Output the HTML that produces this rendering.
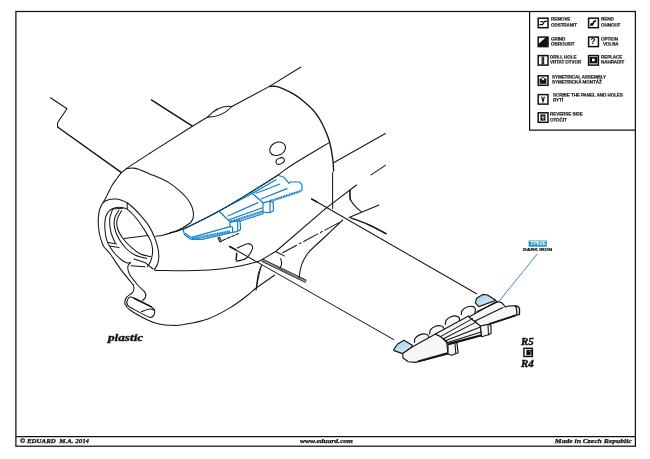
<!DOCTYPE html>
<html><head><meta charset="utf-8"><title>Instruction sheet</title>
<style>
html,body{margin:0;padding:0;background:#fff;}
body{width:650px;height:459px;position:relative;overflow:hidden;font-family:"Liberation Sans",sans-serif;}
.t{position:absolute;white-space:nowrap;color:#111;line-height:1;will-change:transform;}
.ser{font-family:"Liberation Serif",serif;font-weight:bold;font-style:italic;-webkit-text-stroke:0.25px #111;}
.lg{font-family:"Liberation Sans",sans-serif;font-weight:bold;font-size:4.6px;line-height:1;letter-spacing:-0.1px;color:#111;-webkit-text-stroke:0.18px #111;transform:scaleY(0.86);transform-origin:0 0;}
</style></head><body>
<svg width="650" height="459" viewBox="0 0 650 459" style="position:absolute;left:0;top:0">
<defs><linearGradient id="cap" x1="0" y1="0" x2="1" y2="1"><stop offset="0" stop-color="#9fcdea"/><stop offset="1" stop-color="#e4eff7"/></linearGradient></defs>
<g fill="none" stroke="#111" stroke-width="1.25">
<rect x="15.9" y="11.5" width="619.5" height="434.7"/>
<path d="M15.9,436.5 H635.4"/>
<path d="M529.6,11.5 V130.2 H635.4"/>
</g>
<g fill="none" stroke="#151515" stroke-width="1.05" stroke-linecap="round" stroke-linejoin="round">
<path d="M50.5,97.7 L67,108.7 L59.5,119.7"/>
<path d="M59.5,119.7 C59.2,120.3 57.9,122 57.6,123.2 C57.3,124.4 57.6,126.4 57.6,127"/>
<path d="M103.2,202.6 C103.8,201.4 105.5,198.4 107,195.5 C108.5,192.6 110.6,187.8 112.3,185 C114,182.2 115.4,180.6 116.9,178.5 C118.4,176.4 120,174.3 121.5,172.7 C123,171.1 124.4,170.2 126.2,168.8 C128,167.5 128.3,167.2 132.3,164.6 C136.3,162 147.1,155 150,153.1"/>
<path d="M150,153.1 L192.4,126.2 L207.3,117.3"/>
<path d="M231.9,106.5 L269.5,86.4 L301,67"/>
<path d="M207.3,117.3 Q218.8,104.6 231.9,106.5 Q222,117.2 207.3,117.3Z"/>
<path d="M332.6,172.5 L332.6,208.5"/>
<path d="M333.6,162.7 L385.4,133.5"/>
<path d="M371,174.9 L385.4,165.4"/>
<path d="M170,232.7 C172.2,232.1 174.8,232.6 183,229 C191.2,225.4 207.7,217.2 219,211 C230.3,204.8 241.2,198 251,192 C260.8,186 271.2,179.5 278,175 C284.8,170.5 283.5,170.4 292,165 C300.5,159.6 323,146.3 329.2,142.6"/>
<path d="M126.2,168.8 C127.2,168.7 130.2,168 132.3,168.1 C134.4,168.2 135.6,168.2 138.5,169.2 C141.4,170.2 147.2,173.1 150,174.2 C152.8,175.3 152.1,174.6 155.2,176 C158.3,177.4 164.3,179.8 168.5,182.4 C172.7,185 177.4,189 180.6,191.8 C183.8,194.6 185.6,196.5 187.5,199 C189.4,201.5 191,204.6 192,207 C193,209.4 193.2,211.6 193.4,213.5 C193.6,215.4 193.5,217 193,218.5 C192.5,220 190.9,222 190.5,222.7"/>
<path d="M190.3,222.7 C189.1,223.5 186.1,226 183,227.7 C179.9,229.3 175.4,231.3 172,232.6 C168.6,233.8 165.4,234.6 162.7,235.2 C160,235.8 156.8,236 155.6,236.2"/>
<path d="M154.3,269.7 C154.9,268.8 156.8,266.1 157.6,264 C158.3,261.9 158.7,259.3 158.8,257 C158.9,254.7 158.6,252.2 158.3,250 C158,247.8 157.5,246.2 156.8,244 C156.1,241.8 155.6,239.6 154.3,236.7 C153.1,233.8 151.6,230.2 149.3,226.6 C147,223 143,218.2 140.4,215.2 C137.8,212.2 136.1,210.5 134,208.5 C131.9,206.5 129.9,204.6 127.8,203.2 C125.7,201.8 123.6,200.9 121.5,200.2 C119.4,199.5 117.4,199.2 115.2,199.1 C113,199 110.5,199.2 108.5,199.8 C106.5,200.4 104.6,201.2 103.2,202.6 C101.8,204 100.8,206.4 100,208.5 C99.2,210.6 98.9,213 98.6,215.2 C98.3,217.4 98.2,219.4 98.2,221.5 C98.2,223.6 98.4,225.6 98.6,227.8 C98.8,230 99.1,232.4 99.6,234.5 C100,236.6 100.6,238.4 101.3,240.4 C102,242.4 102.4,244.4 103.9,246.7 C105.4,249 107.3,250.1 110.2,254 C113.1,257.9 117.7,265.3 121.5,270.4 C125.3,275.5 131.2,282.4 133.2,284.8"/>
<path d="M147.4,266.6 C147.9,265.8 149.7,263.6 150.5,261.5 C151.3,259.4 152.1,256.3 152.4,254 C152.7,251.7 152.7,250.2 152.4,247.9 C152.1,245.6 151.7,243.1 150.5,240.4 C149.3,237.7 147.6,234.9 145.5,231.6 C143.4,228.2 140.1,223.2 137.9,220.3 C135.7,217.4 134.4,215.9 132.5,214 C130.6,212.1 128.5,210 126.6,208.9 C124.7,207.8 122.9,207.6 121,207.4 C119.1,207.2 117.1,207.2 115.2,207.7 C113.3,208.2 110.9,209.2 109.4,210.6 C107.9,212 106.8,214 106,216 C105.2,218 105.1,220.2 104.9,222.5 C104.7,224.8 104.8,227.6 105,230 C105.2,232.4 105.5,234.7 105.9,236.8 C106.4,238.9 106.9,240.7 107.7,242.6 C108.5,244.5 109.8,246.6 111,248.5 C112.2,250.4 113.5,252.2 115.2,254 C116.9,255.8 119.1,258 121,259.5 C122.9,261 125,262.2 126.6,262.8 C128.2,263.4 129.8,262.8 130.4,262.8"/>
<path d="M127.2,203 L127.2,208.9"/>
<path d="M112.7,208.9 C112.2,210.6 110,215.2 109.7,219 C109.4,222.8 109.9,227.6 110.8,231.6 C111.7,235.6 114.5,241.1 115.2,243"/>
<path d="M119,210.2 C118.3,211.4 115.5,214.8 114.8,217.7 C114.1,220.6 113.9,224.2 114.6,227.8 C115.3,231.4 117,235.5 119,239 C121,242.5 123.9,246.3 126.6,249 C129.3,251.7 132.1,253.6 135.4,255.2 C138.8,256.8 144.8,257.9 146.7,258.4"/>
<path d="M121.5,210.8 C120.8,212.2 118,216.1 117.3,219 C116.6,221.9 116.5,225.2 117.5,228.5 C118.5,231.8 120.7,235.3 123,238.5 C125.3,241.7 128.7,245.1 131.6,247.7 C134.5,250.3 137.2,252.5 140.4,254 C143.6,255.5 148.8,256.1 150.5,256.5"/>
<path d="M112.7,208.9 L122.8,208.3"/>
<path d="M124,238.5 L148,235.6"/>
<path d="M108.3,242.6 L116.5,243.9"/>
<path d="M109.5,246 L119,247.5"/>
<path d="M134.1,259 L145.5,262.8 L153,269"/>
<path d="M131,265.8 L145,266.8"/>
<path d="M155,270.4 C160,270.4 175,270.8 185,270.7 C195,270.6 205.4,270.5 215,269.6 C224.6,268.7 235.5,266.8 242.4,265.5 C249.3,264.2 253,263 256.4,262 C259.8,261 261.5,259.8 262.5,259.4"/>
<path d="M262.5,259.4 L276.3,251 L325.2,208.8"/>
<path d="M133.2,284.8 C133.3,285.4 134.1,287.2 134,288.5 C133.9,289.8 133.7,291.1 132.4,292.6 C131.2,294.1 127.7,295.5 126.5,297.4 C125.3,299.3 124.4,301.8 125,303.9 C125.6,306 126.2,307.3 130,310 C133.8,312.7 142.6,317.6 147.6,320 C152.6,322.4 155.9,323.4 160,324.3 C164.1,325.2 168.2,325.2 172,325.3 C175.8,325.4 176.7,325.8 182.7,324.7 C188.7,323.6 199.9,321.8 207.8,318.9 C215.7,316 223.6,311.6 230.3,307.6 C237,303.6 243.6,298.3 247.9,295 C252.2,291.7 251.8,291.3 256.3,288 C260.8,284.7 271.6,277.2 274.7,275"/>
<path d="M130.4,262.8 C130,263.4 128,264.7 127.8,266.6 C127.6,268.5 127.8,271 129.4,274.1 C131,277.2 135,281.9 137.6,285 C140.2,288.1 143.8,290.5 145.1,292.6 C146.4,294.7 145.7,296.2 145.3,297.5 C144.9,298.8 143,300 142.5,300.5"/>
<path d="M131.3,297 C134.1,297.7 148.7,305.4 151.4,307 C154.1,308.6 154.3,309.4 154.6,310.3 C154.9,311.2 154.5,314.2 153.9,315 C153.3,315.8 152.3,318.2 149.4,317.2 C146.5,316.2 131.4,308.2 128.8,306.4 C126.2,304.6 126.7,302.5 127,301.4 C127.3,300.3 128.5,296.3 131.3,297Z"/>
<path d="M141.5,311.5 C142.9,311.1 147.8,309.2 150,309 C152.2,308.8 153.7,310.1 154.4,310.3"/>
<path d="M256.3,288 C256.6,285.7 257.4,277.8 258.3,274 C259.2,270.2 261.1,266.5 261.7,265"/>
<path d="M237.2,248 C238.9,247.3 245.1,244 247.6,243.7 C250.1,243.4 251.7,244.8 252.3,246 C253,247.2 252.6,248.9 251.5,251 C250.4,253.1 248.4,256.8 245.9,258.5 C243.4,260.2 237.9,260.8 236.3,261.2"/>
<path d="M229.4,246.3 L393.8,339.6"/>
<path d="M218,238 L220,242 L221.5,241.3 L219.5,237.3 L218,238"/>
<path d="M311.4,198.8 L476.6,293.8"/>
<path d="M325.2,208.8 L356.5,185"/>
<path d="M350,189.7 L350,200"/>
<path d="M350,190.5 C350.1,192 349.6,196.9 350.5,199.5 C351.4,202.1 353.6,204.3 355.4,206.3 C357.1,208.3 360.1,210.7 361,211.6"/>
<path d="M349,217.6 L379,205"/>
<path d="M342.7,220 C340.1,222.5 332.7,229.6 327,235 C321.3,240.4 312.8,247.5 308.6,252.4 C304.4,257.3 303.3,260.3 301.7,264.6 C300.1,268.9 299.4,275.8 299,278"/>
<path d="M275.5,251.5 L284.2,255.9"/>
<path d="M280.7,258.5 C280.9,259.4 281.7,262.1 281.6,263.7 C281.5,265.3 280.2,267.4 279.9,268.1"/>
</g>
<g fill="none" stroke="#151515" stroke-width="1.45" stroke-linecap="butt" stroke-linejoin="round">
<path d="M57.6,127 L121.5,172.7"/>
<path d="M151,99.6 L192.4,126.2"/>
<path d="M133.5,298 L151.6,306.9"/>
<path d="M236.1,260.5 L236.8,252.6"/>
<path d="M229.4,246.3 L236,250"/>
<path d="M311.4,198.8 L317,202"/>
<path d="M350.3,217.6 C353.2,218.8 361.9,221.8 368,224.5 C374.1,227.2 383.5,232.3 386.6,233.9"/>
</g>
<g fill="none" stroke="#151515" stroke-width="1.35" stroke-linecap="round" stroke-linejoin="round">
<path d="M269.5,86.5 C270.6,86.5 273.6,86 275.8,86.4 C278,86.8 279.7,87.4 282.7,88.7 C285.7,90 290.3,92.1 293.8,94.2 C297.3,96.3 300.3,98.5 303.5,101.2 C306.7,103.9 310.4,107.1 313.2,110.2 C316,113.3 318.2,116.9 320.1,119.9 C322,122.9 322.8,124.7 324.3,128.2 C325.8,131.7 327.9,136 329.3,141 C330.7,146 332,153.3 332.7,158.3 C333.4,163.3 333.5,168.9 333.6,171"/>
</g>
<g fill="none" stroke="#1280c4" stroke-width="1.2" stroke-linecap="round" stroke-linejoin="round">
<path d="M183,229.4 C189,226.4 207.7,217.4 219,211.2 C230.3,205 241.2,198.2 251,192.2 C260.8,186.2 273.5,178.1 278,175.3"/>
<path d="M278,175.3 L284,177.3 L289,183.3 L290.6,182 L299.5,182 L302,184.6 L302,190.2 L300,191.3"/>
<path d="M270,201.2 L270,212.5 L267,212.6 L263,212"/>
<path d="M270,201.2 L273.3,202.4 L273.3,211 L270,212.5"/>
<path d="M251,192.2 L263,202.8 L263,212"/>
<path d="M263,202.8 L270,201.2"/>
<path d="M263.3,213.8 L240,221"/>
<path d="M219,211.2 L230,221.8 L230,226.6 L232.6,227.2 L232.6,231.8"/>
<path d="M230,221.8 L240,220.6 L240.6,229.5 L236.5,231.6 L230,232.8 L202,239.4 L190.5,239.2 L184.6,234.8 L183,229.4"/>
<path d="M237.5,221 L237.8,231"/>
<path d="M230,226.6 L191,237.6 L185.5,233.6"/>
<path d="M224,208.2 L250,194.8 L276,179.7"/>
<path d="M228,216 L258,202.6"/>
<path d="M229.5,219.5 L262,208"/>
<path d="M256,193.2 L280,184"/>
<path d="M261,199 L287,188.6"/>
</g>
<g fill="none" stroke="#1280c4" stroke-width="2.4" stroke-linecap="butt" stroke-linejoin="round" stroke-dasharray="1.3 0.4">
<path d="M300,191.3 L270,201.2"/>
<path d="M263,211.5 L230,221.8"/>
<path d="M192,239 L230,231.3"/>
</g>
<g><path d="M393.8,349.3 L397.6,344 L403.9,340.2 L412.3,345.2 L411.5,347.3 L402.7,353.6 L394,350.6Z" fill="url(#cap)" stroke="#151515" stroke-width="1.15" stroke-linejoin="round"/><path d="M475.3,302.8 L476.6,298.2 L482.9,294.4 L487.5,295 L495.8,300.2 L479,306.6Z" fill="url(#cap)" stroke="#151515" stroke-width="1.15" stroke-linejoin="round"/><path d="M414.4,342.8 C414.5,342.2 414.4,339.3 415.2,338.2 C416,337.1 418.8,335.2 420.2,334.6 C421.6,334 424.3,333.8 425.4,334 C426.5,334.2 428.3,335.2 428.6,336.4 C428.9,337.6 427.6,342.3 427.4,343.2" fill="#f8f8f8" stroke="#151515" stroke-width="1.15" stroke-linejoin="round"/><path d="M429.6,334.5 C429.7,333.9 429.6,331 430.4,329.9 C431.2,328.8 434,326.9 435.4,326.3 C436.8,325.7 439.5,325.5 440.6,325.7 C441.7,325.9 443.5,326.9 443.8,328.1 C444.1,329.3 442.8,334 442.6,334.9" fill="#f8f8f8" stroke="#151515" stroke-width="1.15" stroke-linejoin="round"/><path d="M445.3,324.9 C445.4,324.3 445.3,321.4 446.1,320.3 C446.9,319.2 449.7,317.3 451.1,316.7 C452.5,316.1 455.2,315.9 456.3,316.1 C457.4,316.3 459.2,317.3 459.5,318.5 C459.8,319.7 458.5,324.4 458.3,325.3" fill="#f8f8f8" stroke="#151515" stroke-width="1.15" stroke-linejoin="round"/><path d="M461.2,315.2 C461.3,314.6 461.2,311.7 462,310.6 C462.8,309.5 465.6,307.6 467,307 C468.4,306.4 471.1,306.2 472.2,306.4 C473.3,306.6 475.1,307.6 475.4,308.8 C475.7,310 474.4,314.7 474.2,315.6" fill="#f8f8f8" stroke="#151515" stroke-width="1.15" stroke-linejoin="round"/><path d="M402.7,353.4 L412.1,347.1 L435.4,333.9 L440.5,336.4 L446.8,342.7 L448,354 L421.6,361 L415.3,362.4 L408.3,361.8 L403,358Z" fill="#f6f6f6" stroke="#151515" stroke-width="1.15" stroke-linejoin="round"/><path d="M435.4,333.9 L468.5,316 L474.2,319.8 L480.3,325.4 L481.6,335.6 L448.6,344.6 L446.8,341.5 L440.5,336.4Z" fill="#f6f6f6" stroke="#151515" stroke-width="1.15" stroke-linejoin="round"/><path d="M469,317 L496.9,301.2 L501.9,302.9 L505.6,307.1 L507.5,306.2 L515,305.7 L518.1,306.6 L519.5,308.5 L519.5,314.5 L516.7,314.9 L489.2,324.2 L480.4,326Z" fill="#f6f6f6" stroke="#151515" stroke-width="1.15" stroke-linejoin="round"/><path d="M515.2,305.8 L518.1,306.6 L519.5,308.5 L519.5,314.5 L516.9,314.9 L516.5,308.5Z" fill="#ddd" stroke="#151515" stroke-width="1.15" stroke-linejoin="round"/><path d="M448,344.6 L456.9,342.7 L458.1,352.8 L451.8,355.3 L448,354Z" fill="#f6f6f6" stroke="#151515" stroke-width="1.15" stroke-linejoin="round"/><path d="M480.4,326 L489.2,324.2 L491,326 L491,333.5 L488.5,334.8 L481.6,336.7Z" fill="#f6f6f6" stroke="#151515" stroke-width="1.15" stroke-linejoin="round"/></g><g fill="none" stroke="#151515" stroke-width="1.05" stroke-linecap="round"><path d="M440.5,336.6 L472.5,318.6"/><path d="M443.5,338.8 L476.5,321.9"/><path d="M446,340.6 L480.5,327"/><path d="M447.6,342.5 L481.2,332"/><path d="M477,311.5 L497.5,302"/><path d="M474.5,321.3 L503,307.5"/><path d="M455,344 L455.8,353.6"/><path d="M488,325 L488.5,334.8"/></g><g fill="none" stroke="#151515" stroke-width="1.9"><path d="M418,361.3 L447.5,353.2"/><path d="M448.6,343.6 L481.5,335.2"/><path d="M489.2,324.2 L515.7,315.4"/></g><g fill="none" stroke="#151515" stroke-width="1.05" stroke-linecap="round"><ellipse cx="277.6" cy="148.8" rx="8.2" ry="6.4" transform="rotate(-25 277.6 148.8)"/><ellipse cx="280.2" cy="161" rx="4.4" ry="2.9" transform="rotate(-25 280.2 161)"/><path d="M260.9,267 Q258,278 256,290.5" stroke-dasharray="3.2 0.9"/><path d="M222.5,240.4 L238.5,233.6" stroke-dasharray="3.5 1.5"/><path d="M339,222.6 L282.6,252.7" stroke-dasharray="16 3 2 3"/><path d="M262.5,260.3 L306,281.3" stroke-width="2.4" stroke-dasharray="0.6 0.55" stroke-linecap="butt"/><path d="M262.8,259.2 L306.5,280.2 M262,261.5 L305.5,282.5" stroke-width="0.8"/><path d="M183,229.4 C189,226.4 207.7,217.4 219,211.2 C230.3,205 241.2,198.2 251,192.2 C260.8,186.2 273.5,178.1 278,175.3" stroke-dasharray="1.6 1.8" stroke-width="0.9"/></g><path d="M537.3,253.9 L498.8,301.6" stroke="#1f86b8" stroke-width="0.9" fill="none"/><rect x="528.6" y="240.5" width="18.3" height="6.2" fill="#229bc8"/><rect x="523.9" y="348.3" width="8.5" height="8.2" fill="#fff" stroke="#111" stroke-width="1.4"/><rect x="526.4" y="349.8" width="5.4" height="5.4" fill="#111"/><path d="M529.2,351.2 l1.6,1.2 M529.8,354.6 l1.4,-0.6" stroke="#fff" stroke-width="0.7"/><rect x="538.2" y="18.200000000000003" width="9.8" height="9.5" fill="#fff" stroke="#111" stroke-width="1.5"/><path d="M539.4,24.6 h3.2 l1.8,-3.2 h2.6 M540.4,21.6 h2.6" fill="none" stroke="#111" stroke-width="1.3"/><rect x="588.6" y="18.200000000000003" width="9.8" height="9.5" fill="#fff" stroke="#111" stroke-width="1.5"/><path d="M591.2,24.6 l1.6,-0.6 l1.2,-2.4 l2,-1" fill="none" stroke="#111" stroke-width="1.7"/><circle cx="591.6" cy="24.4" r="1.5" fill="#111"/><rect x="538.2" y="37.1" width="9.8" height="9.5" fill="#fff" stroke="#111" stroke-width="1.5"/><path d="M538.4,46.4 V44 L546,37.3 H547.8 V46.4Z" fill="#111"/><rect x="588.6" y="37.1" width="9.8" height="9.5" fill="#fff" stroke="#111" stroke-width="1.5"/><rect x="538.2" y="55.6" width="9.8" height="9.5" fill="#fff" stroke="#111" stroke-width="1.5"/><rect x="541.6" y="56.6" width="2.6" height="7.8" fill="#111"/><path d="M542.9,57.5 v6" stroke="#fff" stroke-width="0.6" stroke-dasharray="1 0.8"/><rect x="588.6" y="55.6" width="9.8" height="9.5" fill="#fff" stroke="#111" stroke-width="1.5"/><rect x="589.6" y="57" width="7.8" height="6.4" fill="#111"/><rect x="592" y="58.6" width="2.8" height="2.6" fill="#fff"/><rect x="538.2" y="75.8" width="9.8" height="9.5" fill="#fff" stroke="#111" stroke-width="1.5"/><rect x="539.6" y="78.6" width="6.8" height="5.2" fill="#111"/><circle cx="543" cy="79" r="1.6" fill="#fff" stroke="#111" stroke-width="0.7"/><rect x="538.2" y="94.6" width="9.8" height="9.5" fill="#fff" stroke="#111" stroke-width="1.5"/><path d="M541.6,96.6 l1.4,5 l1.4,-5" fill="none" stroke="#111" stroke-width="1.2"/><rect x="538.2" y="112.8" width="9.8" height="9.5" fill="#fff" stroke="#111" stroke-width="1.5"/><rect x="540.4" y="114.4" width="5" height="6.2" fill="#111"/><path d="M541.4,117.4 h3.2 M543,115.4 v4.4" stroke="#fff" stroke-width="0.7"/>
</svg>

<div class="t ser" style="left:108.3px;top:333.1px;font-size:10.4px;-webkit-text-stroke:0.35px #111;transform:scaleX(1.27);transform-origin:0 0;">plastic</div>
<div class="t ser" style="left:521.2px;top:336.8px;font-size:9.6px;-webkit-text-stroke:0.4px #111;transform:scaleX(1.14);transform-origin:0 0;">R5</div>
<div class="t ser" style="left:521.2px;top:359.4px;font-size:9.6px;-webkit-text-stroke:0.4px #111;transform:scaleX(1.14);transform-origin:0 0;">R4</div>
<div class="t ser" style="left:19.6px;top:438.3px;font-size:6.3px;transform:scaleX(1.1);transform-origin:0 0;">© EDUARD &nbsp;M.A. 2014</div>
<div class="t ser" style="left:299.6px;top:438.3px;font-size:6.3px;transform:scaleX(1.185);transform-origin:0 0;">www.eduard.com</div>
<div class="t ser" style="left:534.7px;top:438.3px;font-size:6.3px;width:96.7px;text-align:right;transform:scaleX(1.21);transform-origin:100% 0;">Made in Czech Republic</div>
<div class="t" style="left:528.6px;top:241.2px;width:18.3px;text-align:center;font-size:5.2px;font-weight:bold;color:#fff;">TP82E</div>
<div class="t" style="left:523.1px;top:247.9px;font-size:4.4px;font-weight:bold;-webkit-text-stroke:0.2px #111;transform:scaleX(1.17);transform-origin:0 0;">DARK IRON</div>
<div class="t lg" style="left:550.7px;top:18.3px;">REMOVE</div>
<div class="t lg" style="left:550.7px;top:23.9px;">ODSTRANIT</div>
<div class="t lg" style="left:601px;top:18.3px;">BEND</div>
<div class="t lg" style="left:601px;top:23.9px;">OHNOUT</div>
<div class="t lg" style="left:550.7px;top:38.1px;">GRIND</div>
<div class="t lg" style="left:550.7px;top:42.7px;">OBROUSIT</div>
<div class="t lg" style="left:601px;top:38.1px;">OPTION</div>
<div class="t lg" style="left:602.6px;top:42.7px;">VOLBA</div>
<div class="t lg" style="left:549.9px;top:56.2px;">DRILL HOLE</div>
<div class="t lg" style="left:549.9px;top:60.9px;">VRTAT OTVOR</div>
<div class="t lg" style="left:600.9px;top:56.2px;">REPLACE</div>
<div class="t lg" style="left:600.9px;top:60.9px;">NAHRADIT</div>
<div class="t lg" style="left:551.7px;top:76.1px;">SYMETRICAL ASSEMBLY</div>
<div class="t lg" style="left:551.7px;top:81.4px;">SYMETRICKÁ MONTÁŽ</div>
<div class="t lg" style="left:552.9px;top:93.7px;">SCRIBE THE PANEL AND HOLES</div>
<div class="t lg" style="left:552.9px;top:99.3px;">RYTÍ</div>
<div class="t lg" style="left:550.4px;top:113.4px;">REVERSE SIDE</div>
<div class="t lg" style="left:550.4px;top:118.6px;">OTOČIT</div>
<div class="t" style="left:590.4px;top:37.4px;font-size:9px;font-weight:bold;width:6px;text-align:center;">?</div>

</body></html>
